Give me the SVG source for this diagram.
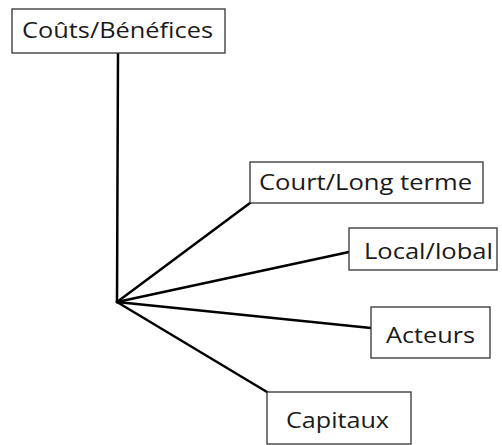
<svg xmlns="http://www.w3.org/2000/svg" width="502" height="445" viewBox="0 0 502 445">
<style>
.box{fill:#fff;stroke:#333;stroke-width:1.3}
.lbl{font-family:"Open Sans","Liberation Sans",sans-serif;font-size:22px;fill:#1a1a1a}
.con{stroke:#000;stroke-width:2.5;fill:none;stroke-linecap:round}
</style>
<rect width="502" height="445" fill="#fff"/>
<g id="connectors">
<line class="con" x1="117" y1="302" x2="118" y2="53"/>
<line class="con" x1="117" y1="302" x2="250" y2="203"/>
<line class="con" x1="117" y1="302" x2="349" y2="252"/>
<line class="con" x1="117" y1="302" x2="371" y2="328"/>
<line class="con" x1="117" y1="302" x2="267" y2="392"/>
</g>
<g id="couts">
<rect class="box" x="12" y="9" width="213" height="44"/>
<text class="lbl" x="22" y="38" textLength="191" lengthAdjust="spacingAndGlyphs">Coûts/Bénéfices</text>
</g>
<g id="court">
<rect class="box" x="250" y="162" width="233" height="41"/>
<text class="lbl" x="259" y="190" textLength="213" lengthAdjust="spacingAndGlyphs">Court/Long terme</text>
</g>
<g id="local">
<rect class="box" x="349" y="228" width="148" height="42"/>
<text class="lbl" x="364" y="259" textLength="129" lengthAdjust="spacingAndGlyphs">Local/lobal</text>
</g>
<g id="acteurs">
<rect class="box" x="371" y="307" width="119" height="51"/>
<text class="lbl" x="386" y="343" textLength="89" lengthAdjust="spacingAndGlyphs">Acteurs</text>
</g>
<g id="capitaux">
<rect class="box" x="267" y="392" width="144" height="52"/>
<text class="lbl" x="286" y="428" textLength="103" lengthAdjust="spacingAndGlyphs">Capitaux</text>
</g>
</svg>
